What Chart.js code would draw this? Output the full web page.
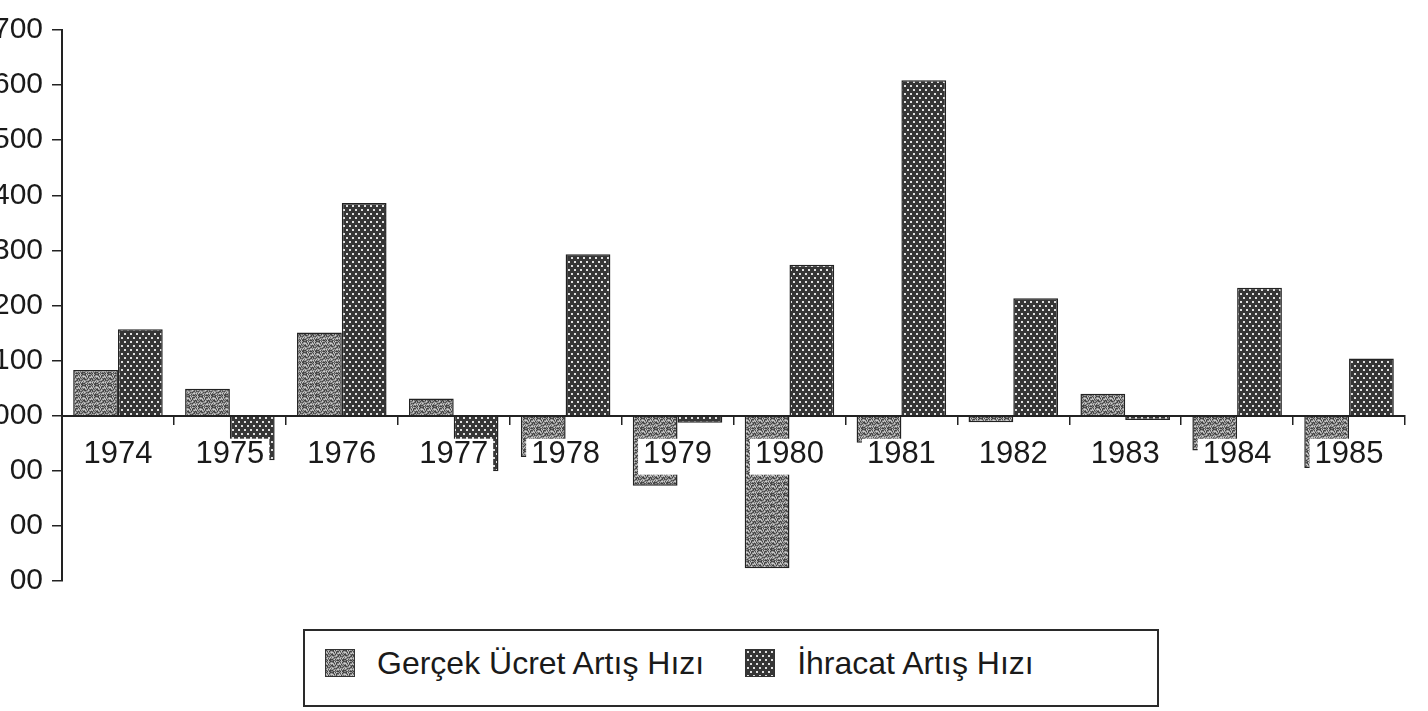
<!DOCTYPE html>
<html>
<head>
    <meta charset="UTF-8">
    <title>Gerçek Ücret ve İhracat Artış Hızı</title>
    <script src="https://cdn.jsdelivr.net/npm/chart.js"></script>
    <style>
        body {
            margin: 0;
            background: #fff;
            font-family: 'Liberation Sans', Arial, sans-serif;
            color: #1a1a1a;
        }

        #wrap {
            position: relative;
            width: 1428px;
            height: 711px;
            overflow: hidden;
        }

        #chartBox {
            position: absolute;
            left: 0;
            top: 0;
        }

        #legend {
            position: absolute;
            left: 303px;
            top: 629px;
            width: 856px;
            height: 78px;
            border: 2px solid #2a2a2a;
            box-sizing: border-box;
            display: flex;
            align-items: flex-start;
            padding: 16px 0 0 20px;
            font-size: 32px;
        }

        .swatch {
            width: 30px;
            height: 28px;
            margin-right: 22px;
            margin-top: 2px;
            box-sizing: border-box;
            border: 1px solid #333;
        }

        .lbl {
            margin-right: 41px;
            line-height: 32px;
        }
    </style>
</head>
<body>
<div id="wrap">
    <div id="chartBox"><canvas id="barChart" width="1428" height="608"></canvas></div>
    <div id="legend"></div>
</div>

<script>
    // years on the x axis
    var years = ['1974', '1975', '1976', '1977', '1978', '1979', '1980', '1981', '1982', '1983', '1984', '1985'];

    var gercekUcret = [0.083, 0.049, 0.151, 0.031, -0.075, -0.127, -0.277, -0.049, -0.012, 0.040, -0.063, -0.095];
    var ihracat = [0.157, -0.081, 0.386, -0.101, 0.293, -0.013, 0.274, 0.609, 0.213, -0.008, 0.232, 0.104];

    var seriesNames = ['Gerçek Ücret Artış Hızı', 'İhracat Artış Hızı'];

    // y ticks as they show on the page (left part is cut off in the scan)
    var yTickValues = [-0.3, -0.2, -0.1, 0, 0.1, 0.2, 0.3, 0.4, 0.5, 0.6, 0.7];
    var yTickLabels = ['00', '00', '00', '000', '100', '200', '300', '400', '500', '600', '700'];

    var fontFamily = "'Liberation Sans', Arial, sans-serif";

    // speckled grey texture
    function noiseTile() {
        var c = document.createElement('canvas');
        c.width = 13; c.height = 11;
        var g = c.getContext('2d');
        var shades = ['#4e4e4e', '#858585', '#aaaaaa', '#cccccc', '#686868', '#979797', '#3e3e3e'];
        for (var y = 0; y < 11; y++) {
            for (var x = 0; x < 13; x++) {
                var k = (x * x * 3 + y * 5 + x * y * 7 + ((x + 2 * y) % 4) * 2) % shades.length;
                g.fillStyle = shades[k];
                g.fillRect(x, y, 1, 1);
            }
        }
        return c;
    }

    // dark texture with small light dots
    function dotTile() {
        var c = document.createElement('canvas');
        c.width = 6; c.height = 8;
        var g = c.getContext('2d');
        g.fillStyle = '#363636';
        g.fillRect(0, 0, 6, 8);
        g.fillStyle = '#e0e0e0';
        g.fillRect(1, 1, 2, 2);
        g.fillRect(4, 5, 2, 2);
        return c;
    }

    var tiles = [noiseTile(), dotTile()];
    var ctx = document.getElementById('barChart').getContext('2d');
    var fills = tiles.map(function(t) { return ctx.createPattern(t, 'repeat'); });

    // html legend
    var legend = document.getElementById('legend');
    seriesNames.forEach(function(name, i) {
        var sw = document.createElement('div');
        sw.className = 'swatch';
        sw.style.backgroundImage = 'url(' + tiles[i].toDataURL() + ')';
        var tx = document.createElement('div');
        tx.className = 'lbl';
        tx.textContent = name;
        legend.appendChild(sw);
        legend.appendChild(tx);
    });

    var chart = new Chart(ctx, {
        type: 'bar',
        data: {
            labels: years,
            datasets: [{
                label: seriesNames[0],
                data: gercekUcret,
                backgroundColor: fills[0],
                borderColor: '#222',
                borderWidth: 1.5
            }, {
                label: seriesNames[1],
                data: ihracat,
                backgroundColor: fills[1],
                borderColor: '#222',
                borderWidth: 1.5
            }]
        },
        options: {
            responsive: false,
            animation: false,
            layout: { padding: { top: 30, right: 23, bottom: 12, left: 0 } },
            datasets: {
                bar: { categoryPercentage: 0.8, barPercentage: 1.0 }
            },
            plugins: {
                legend: { display: false },
                tooltip: { enabled: false }
            },
            scales: {
                x: {
                    position: { y: 0 },
                    offset: true,
                    grid: {
                        offset: true,
                        drawOnChartArea: false,
                        tickLength: 8,
                        color: '#222',
                        lineWidth: 1.5,
                        z: 1
                    },
                    border: { display: true, color: '#222', width: 2, z: 1 },
                    ticks: {
                        z: 1,
                        color: '#1a1a1a',
                        font: { family: fontFamily, size: 31, lineHeight: 1.0 },
                        padding: 15,
                        maxRotation: 0,
                        showLabelBackdrop: true,
                        backdropColor: '#fff',
                        backdropPadding: { top: 0, bottom: 5, left: 5, right: 5 }
                    }
                },
                y: {
                    min: -0.3,
                    max: 0.7,
                    afterBuildTicks: function(scale) {
                        scale.ticks = yTickValues.map(function(v) { return { value: v }; });
                    },
                    afterFit: function(scale) {
                        scale.width = 62;
                    },
                    grid: {
                        drawOnChartArea: false,
                        tickLength: 10,
                        color: '#222',
                        lineWidth: 1.5
                    },
                    border: { display: true, color: '#222', width: 2 },
                    ticks: {
                        color: '#1a1a1a',
                        font: { family: fontFamily, size: 30 },
                        padding: 9,
                        callback: function(value, index) {
                            return yTickLabels[index];
                        }
                    }
                }
            }
        }
    });
</script>
</body>
</html>
